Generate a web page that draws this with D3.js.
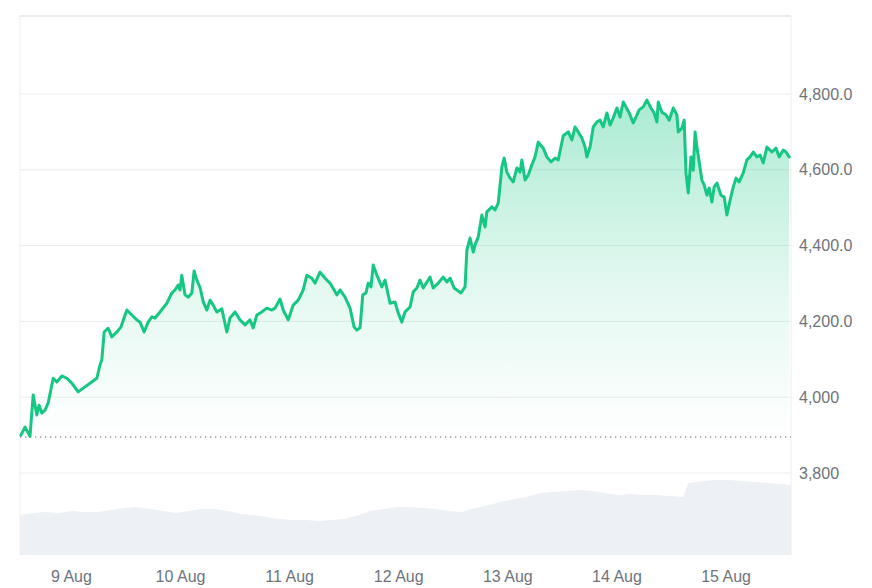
<!DOCTYPE html>
<html>
<head>
<meta charset="utf-8">
<script src="https://cdn.jsdelivr.net/npm/d3@7"></script>
<style>
  html, body { margin: 0; padding: 0; background: #ffffff; }
  svg { display: block; }
</style>
</head>
<body>
<svg id="chart" width="872" height="588"></svg>
<script>
// ---------------- DATA ----------------
const startTime = "2025-08-08T12:48:00Z";
const spanHours = 169.6;
const startPrice = 3895;

// hours from start
const priceHours = [0.2,1.1,2.2,2.9,3.7,4.2,4.8,5.5,6.2,7.3,8.1,9.2,10.3,11.4,12.8,13.9,15.4,16.9,17.6,18.0,18.5,19.4,20.2,21.3,22.2,23.5,24.6,25.7,26.4,27.3,28.2,29.0,29.7,30.8,32.3,33.4,34.1,34.8,35.2,35.6,36.3,37.0,37.8,38.3,38.9,39.6,40.3,41.1,41.8,42.5,43.3,44.4,45.5,46.2,47.3,48.4,49.5,50.6,51.3,52.1,53.2,54.3,55.4,56.1,57.2,57.9,59.0,60.1,61.2,62.3,63.1,64.2,64.9,66.0,67.1,68.2,69.7,70.4,71.5,72.6,73.5,74.1,74.8,75.4,76.1,76.6,77.2,77.7,78.5,79.6,80.3,81.4,82.5,83.2,84.0,84.7,85.8,86.5,87.3,88.0,88.7,89.5,90.2,90.9,92.0,93.1,93.9,94.6,95.5,96.1,97.0,97.9,98.3,99.0,99.7,100.1,100.8,101.6,102.3,102.7,103.8,104.5,105.2,106.0,106.5,107.1,107.8,108.5,109.3,110.0,110.4,111.1,111.8,112.6,113.3,114.0,115.1,115.9,116.8,117.7,118.4,119.5,120.6,121.4,122.1,122.8,123.6,124.3,124.7,125.4,126.1,126.9,127.6,128.3,129.1,129.8,130.5,131.3,132.0,132.7,133.3,134.0,134.9,135.5,136.2,137.1,137.9,138.8,139.5,140.1,140.4,141.2,142.1,142.8,143.7,144.5,144.8,145.6,146.1,146.5,147.0,147.6,148.1,148.5,148.9,149.4,150.0,150.5,151.1,151.6,152.2,152.7,153.3,154.2,154.9,155.5,156.2,156.9,157.5,158.2,159.1,159.9,160.6,161.3,162.1,162.8,163.5,164.3,165.4,166.3,167.0,167.9,168.5,169.2];
const prices = [3900,3921,3897,4006,3953,3979,3958,3966,3985,4050,4040,4056,4050,4037,4014,4024,4037,4050,4085,4098,4172,4182,4159,4172,4185,4230,4217,4204,4198,4172,4198,4212,4209,4225,4248,4275,4283,4296,4283,4322,4270,4264,4275,4333,4309,4290,4252,4230,4256,4243,4225,4233,4172,4209,4225,4204,4191,4204,4183,4217,4225,4235,4230,4235,4259,4230,4204,4243,4256,4283,4322,4314,4301,4330,4314,4301,4270,4283,4264,4235,4185,4177,4183,4270,4275,4301,4291,4349,4322,4291,4309,4248,4251,4222,4198,4225,4238,4278,4288,4309,4288,4304,4317,4288,4301,4317,4304,4314,4288,4283,4275,4291,4388,4420,4383,4402,4423,4481,4449,4489,4502,4494,4512,4607,4631,4594,4578,4568,4605,4594,4626,4573,4586,4613,4634,4673,4657,4634,4621,4631,4626,4690,4700,4679,4713,4700,4684,4660,4634,4660,4713,4726,4731,4713,4750,4718,4737,4763,4739,4779,4766,4750,4724,4739,4758,4766,4784,4763,4750,4726,4779,4752,4745,4731,4763,4745,4700,4710,4731,4592,4539,4634,4599,4700,4660,4621,4573,4560,4533,4552,4515,4555,4565,4533,4528,4481,4520,4555,4578,4568,4592,4626,4634,4647,4634,4639,4618,4660,4647,4657,4634,4652,4647,4634];

const volumeHours = [0,2.9,5.7,8.6,11.4,14.3,17.2,20.0,22.9,25.7,28.6,31.5,34.3,37.2,40.0,42.9,45.8,48.6,51.5,54.3,57.2,60.1,62.9,65.8,68.6,71.5,74.4,77.2,80.1,82.9,85.8,88.7,91.5,94.4,97.2,100.1,103.0,105.8,108.7,111.5,114.4,117.3,120.1,123.0,125.8,128.7,131.6,134.4,137.3,140.1,143.0,145.9,147.0,150.3,153.1,156.0,158.8,161.7,164.6,167.4,169.6];
const volumes = [40,42,43,42,44,43,43,45,47,48,46,44,42,44,46,46,44,41,40,38,36,35,35,34,35,36,40,44,46,48,48,47,46,44,43,47,50,53,56,58,62,63,64,65,64,62,60,61,60,60,59,58,72,74,75,75,74,73,72,71,70];

const yTickValues = [4800, 4600, 4400, 4200, 4000, 3800];
const yTickLabels = ["4,800.0", "4,600.0", "4,400.0", "4,200.0", "4,000", "3,800"];
const xTickDates = ["2025-08-09","2025-08-10","2025-08-11","2025-08-12","2025-08-13","2025-08-14","2025-08-15"];

// ---------------- LAYOUT ----------------
const L = 20, R = 791, T = 16, B = 555;
const green = "#16c784";
const font = "'Liberation Sans', Arial, Helvetica, sans-serif";

const t0 = new Date(startTime);
const hToDate = h => new Date(t0.getTime() + h * 3600e3);
const tEnd = hToDate(spanHours);

const priceData = priceHours.map((h, i) => ({ t: hToDate(h), v: prices[i] }));
const volData = volumeHours.map((h, i) => ({ t: hToDate(h), v: volumes[i] }));

const x = d3.scaleUtc().domain([t0, tEnd]).range([L, R]);
const y = d3.scaleLinear().domain([3800, 4800]).range([473, 94]);
const yv = d3.scaleLinear().domain([0, 100]).range([B, B - 100]);

const svg = d3.select("#chart");

// gradient
const defs = svg.append("defs");
const grad = defs.append("linearGradient")
  .attr("id", "pg").attr("gradientUnits", "userSpaceOnUse")
  .attr("x1", 0).attr("x2", 0)
  .attr("y1", y(d3.max(prices))).attr("y2", y(startPrice));
grad.append("stop").attr("offset", 0).attr("stop-color", green).attr("stop-opacity", 0.36);
grad.append("stop").attr("offset", 0.55).attr("stop-color", green).attr("stop-opacity", 0.12);
grad.append("stop").attr("offset", 1).attr("stop-color", green).attr("stop-opacity", 0.0);

// volume area
svg.append("path")
  .datum(volData)
  .attr("fill", "#edf0f4")
  .attr("d", d3.area().x(d => x(d.t)).y0(B).y1(d => yv(d.v)).curve(d3.curveLinear));

// grid lines
svg.append("g").selectAll("line").data(yTickValues).join("line")
  .attr("x1", L).attr("x2", R)
  .attr("y1", d => y(d)).attr("y2", d => y(d))
  .attr("stroke", "#ececec").attr("stroke-width", 1);

// frame
svg.append("line").attr("x1", L).attr("x2", R).attr("y1", T).attr("y2", T)
  .attr("stroke", "#e6e6e6").attr("stroke-width", 1.5);
svg.append("line").attr("x1", L).attr("x2", L).attr("y1", T).attr("y2", B)
  .attr("stroke", "#eeeeee").attr("stroke-width", 1);
svg.append("line").attr("x1", R).attr("x2", R).attr("y1", T).attr("y2", B)
  .attr("stroke", "#eeeeee").attr("stroke-width", 1);

// price area
svg.append("path")
  .datum(priceData)
  .attr("fill", "url(#pg)")
  .attr("d", d3.area().x(d => x(d.t)).y0(y(startPrice)).y1(d => y(d.v)));

// baseline dotted
svg.append("line")
  .attr("x1", L).attr("x2", R)
  .attr("y1", y(startPrice)).attr("y2", y(startPrice))
  .attr("stroke", "#9a9a9a").attr("stroke-width", 1.3)
  .attr("stroke-dasharray", "1.3,3.7");

// price line
svg.append("path")
  .datum(priceData)
  .attr("fill", "none")
  .attr("stroke", green).attr("stroke-width", 3)
  .attr("stroke-linejoin", "round").attr("stroke-linecap", "round")
  .attr("d", d3.line().x(d => x(d.t)).y(d => y(d.v)));

// right axis labels
const yAxis = d3.axisRight(y).tickValues(yTickValues)
  .tickFormat((d, i) => yTickLabels[i]).tickSize(0).tickPadding(0);
const gy = svg.append("g").attr("transform", `translate(${R + 8},0)`).call(yAxis);
gy.select(".domain").remove();
gy.selectAll("text").attr("fill", "#6e737c").attr("font-size", 16)
  .attr("font-family", font);

// bottom axis labels
const xAxis = d3.axisBottom(x)
  .tickValues(xTickDates.map(s => new Date(s + "T00:00:00Z")))
  .tickFormat(d3.utcFormat("%-d %b")).tickSize(0).tickPadding(0);
const gx = svg.append("g").attr("transform", `translate(0,${B + 16})`).call(xAxis);
gx.select(".domain").remove();
gx.selectAll("text").attr("fill", "#6e737c").attr("font-size", 16)
  .attr("font-family", font);
</script>
</body>
</html>
